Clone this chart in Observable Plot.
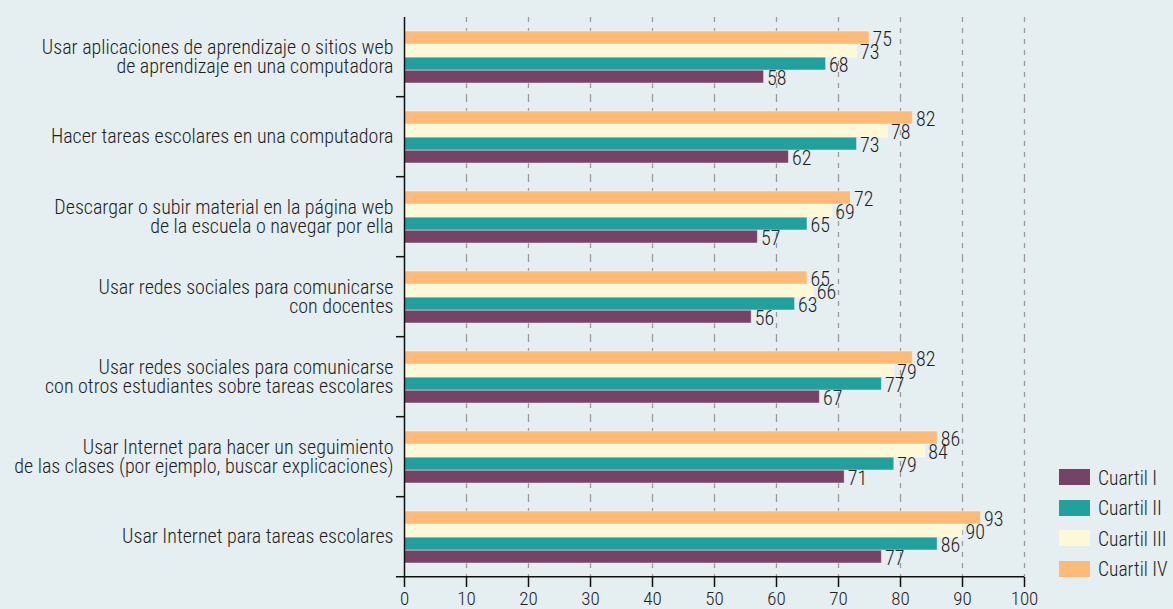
<!DOCTYPE html>
<html>
<head>
<meta charset="utf-8">
<script src="https://cdn.jsdelivr.net/npm/d3@7"></script>
<script src="https://cdn.jsdelivr.net/npm/@observablehq/plot@0.6"></script>
<style>
  html, body { margin: 0; padding: 0; background: #e5eef0; }
  body { width: 1173px; height: 609px; overflow: hidden; position: relative;
         font-family: "Roboto Condensed", "DejaVu Sans Condensed", "Liberation Sans Narrow", Roboto, sans-serif; font-weight: 300; }
  #legend { position: absolute; left: 1059px; top: 469px; }
  .item { display: flex; align-items: center; height: 30.5px; font-size: 19.5px; color: #222; }
  .sw { width: 31px; height: 16px; margin-right: 8px; margin-top: -14px; }
</style>
</head>
<body>
<div id="chart"></div>
<div id="legend"></div>
<script>
const categories = [
  "Usar aplicaciones de aprendizaje o sitios web\nde aprendizaje en una computadora",
  "Hacer tareas escolares en una computadora",
  "Descargar o subir material en la página web\nde la escuela o navegar por ella",
  "Usar redes sociales para comunicarse\ncon docentes",
  "Usar redes sociales para comunicarse\ncon otros estudiantes sobre tareas escolares",
  "Usar Internet para hacer un seguimiento\nde las clases (por ejemplo, buscar explicaciones)",
  "Usar Internet para tareas escolares"
];
const quartiles = ["Cuartil I", "Cuartil II", "Cuartil III", "Cuartil IV"];
const cuartilI   = [58, 62, 57, 56, 67, 71, 77];
const cuartilII  = [68, 73, 65, 63, 77, 79, 86];
const cuartilIII = [73, 78, 69, 66, 79, 84, 90];
const cuartilIV  = [75, 82, 72, 65, 82, 86, 93];
const colors = ["#754363", "#22a09e", "#fdf8d5", "#fdbb79"];
const xTicks = [0, 10, 20, 30, 40, 50, 60, 70, 80, 90, 100];

const series = [cuartilI, cuartilII, cuartilIII, cuartilIV];
const data = categories.flatMap((c, i) =>
  quartiles.map((q, j) => ({category: c, quartile: q, value: series[j][i]})));

const W = 1173, H = 609, mt = 16, mb = 32, ml = 404, mr = 149;
const facetH = (H - mt - mb) / categories.length;
const yPadOuter = 0.95, yPadInner = 0;
const step = facetH / (quartiles.length - yPadInner + 2 * yPadOuter);
// offset from the center of the lowest bar to the bottom edge of its facet
const toFacetBottom = step * yPadOuter + step / 2;

const boundaries = categories.map((c, i) => ({category: c, last: i === categories.length - 1}));
const FONT = "'Roboto Condensed', 'DejaVu Sans Condensed', 'Liberation Sans Narrow', Roboto, sans-serif";

const chart = Plot.plot({
  width: W, height: H,
  marginTop: mt, marginBottom: mb, marginLeft: ml, marginRight: mr,
  style: {background: "#e5eef0", fontFamily: FONT, fontWeight: 300, fontSize: "20px", color: "#1e1e1e", overflow: "visible"},
  x: {domain: [0, 100], axis: null},
  y: {domain: quartiles.slice().reverse(), paddingInner: yPadInner, paddingOuter: yPadOuter, axis: null},
  fy: {domain: categories, padding: 0, axis: null},
  color: {domain: quartiles, range: colors},
  marks: [
    Plot.ruleX(xTicks.slice(1), {stroke: "#9b9b9b", strokeWidth: 1.3, strokeDasharray: "5,6"}),
    Plot.barX(data, {x: "value", y: "quartile", fy: "category", fill: "quartile",
      stroke: "#ffffff", strokeOpacity: 0.45, strokeWidth: 1}),
    Plot.text(data, {x: "value", y: "quartile", fy: "category", text: d => String(d.value),
      textAnchor: "start", dx: 3, dy: 2, fontSize: 20, fill: "#1e1e1e"}),
    Plot.ruleX([0], {stroke: "#111", strokeWidth: 1.5}),
    Plot.ruleY(boundaries, {fy: "category", y: () => "Cuartil I", dy: toFacetBottom,
      x1: -1.3, x2: d => d.last ? 100 : 0, stroke: "#111", strokeWidth: 1.5}),
    Plot.axisFy({anchor: "left", tickSize: 0, tickPadding: 11, label: null,
      fontSize: 20, lineHeight: 0.92, fill: "#1e1e1e"}),
    Plot.axisX({ticks: xTicks, tickSize: 10, tickPadding: 4, label: null, fontSize: 19,
      stroke: "#111", strokeWidth: 1.5, fill: "#1e1e1e"})
  ]
});
document.getElementById("chart").appendChild(chart);

const legend = document.getElementById("legend");
quartiles.forEach((q, i) => {
  const item = document.createElement("div");
  item.className = "item";
  item.innerHTML = `<span class="sw" style="background:${colors[i]}"></span><span style="margin-top:-12px">${q}</span>`;
  legend.appendChild(item);
});
</script>
</body>
</html>
